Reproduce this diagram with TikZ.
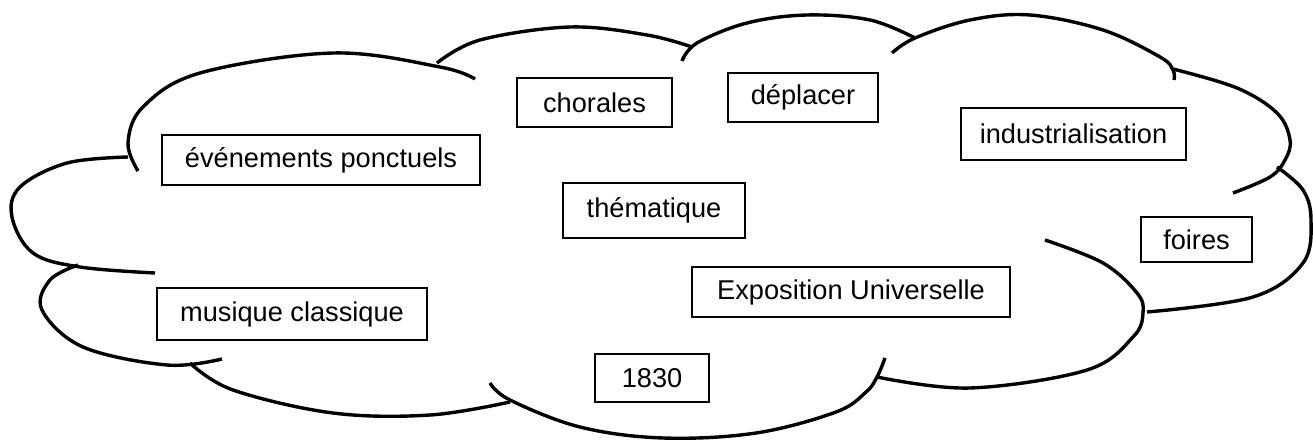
\documentclass[tikz,border=0pt]{standalone}
\usepackage{fontspec}
\setmainfont{Liberation Sans}
\begin{document}
\begin{tikzpicture}[x=1pt,y=-1pt,
  cloudline/.style={line width=3.4pt, black},
  wordbox/.style={draw=black, line width=1.3pt, fill=white, inner sep=0pt,
    font=\fontsize{27.2}{31}\selectfont, text=black}]
\useasboundingbox (0,0) rectangle (1313,441);
% cloud bumps
\draw[cloudline] plot[smooth, tension=0.6] coordinates {(155,273) (80,267) (33,253) (12,217) (20,187) (67,163) (128,157)};
\draw[cloudline] plot[smooth, tension=0.6] coordinates {(138,171) (128,143) (143,107) (200,73) (333,53) (440,67) (475,79)};
\draw[cloudline] plot[smooth, tension=0.6] coordinates {(437,63) (480,40) (570,27) (647,35) (692,47)};
\draw[cloudline] plot[smooth, tension=0.6] coordinates {(682,61) (697,43) (747,23) (807,15) (870,20) (915,38)};
\draw[cloudline] plot[smooth, tension=0.6] coordinates {(892,53) (915,38) (970,20) (1030,15) (1103,30) (1160,57) (1173,70) (1174,80)};
\draw[cloudline] plot[smooth, tension=0.6] coordinates {(1173,69) (1237,88) (1277,113) (1290,140) (1285,160) (1270,177) (1233,193)};
\draw[cloudline] plot[smooth, tension=0.6] coordinates {(1277,167) (1303,190) (1311,220) (1303,263) (1253,297) (1147,312)};
\draw[cloudline] plot[smooth, tension=0.6] coordinates {(1045,240) (1103,263) (1137,293) (1143,313) (1133,337) (1087,370) (970,388) (877,377)};
\draw[cloudline] plot[smooth, tension=0.6] coordinates {(885,358) (877,377) (866,392) (836,412) (756,433) (663,438) (580,427) (510,400) (490,383)};
\draw[cloudline] plot[smooth, tension=0.6] coordinates {(510,402) (430,415) (333,413) (233,390) (190,363)};
\draw[cloudline] plot[smooth, tension=0.6] coordinates {(222,359) (167,365) (83,347) (42,310) (50,280) (78,265)};
% word boxes
\node[wordbox, minimum width=318pt, minimum height=50pt] (ev) at (321,160) {événements ponctuels};
\node[wordbox, minimum width=155pt, minimum height=49pt] (ch) at (594.5,102.5) {chorales};
\node[wordbox, minimum width=150pt, minimum height=49pt] (de) at (803,97.5) {déplacer};
\node[wordbox, minimum width=225pt, minimum height=52pt] (in) at (1073.5,134) {industrialisation};
\node[wordbox, minimum width=182pt, minimum height=55pt] (th) at (654,210.5) {thématique};
\node[wordbox, minimum width=111pt, minimum height=45pt] (fo) at (1196.5,239.5) {foires};
\node[wordbox, minimum width=318pt, minimum height=50pt] (ex) at (851,292) {Exposition Universelle};
\node[wordbox, minimum width=270pt, minimum height=52pt] (mu) at (292,314) {musique classique};
\node[wordbox, minimum width=114pt, minimum height=48pt] (yr) at (652,378) {1830};
\end{tikzpicture}
\end{document}
